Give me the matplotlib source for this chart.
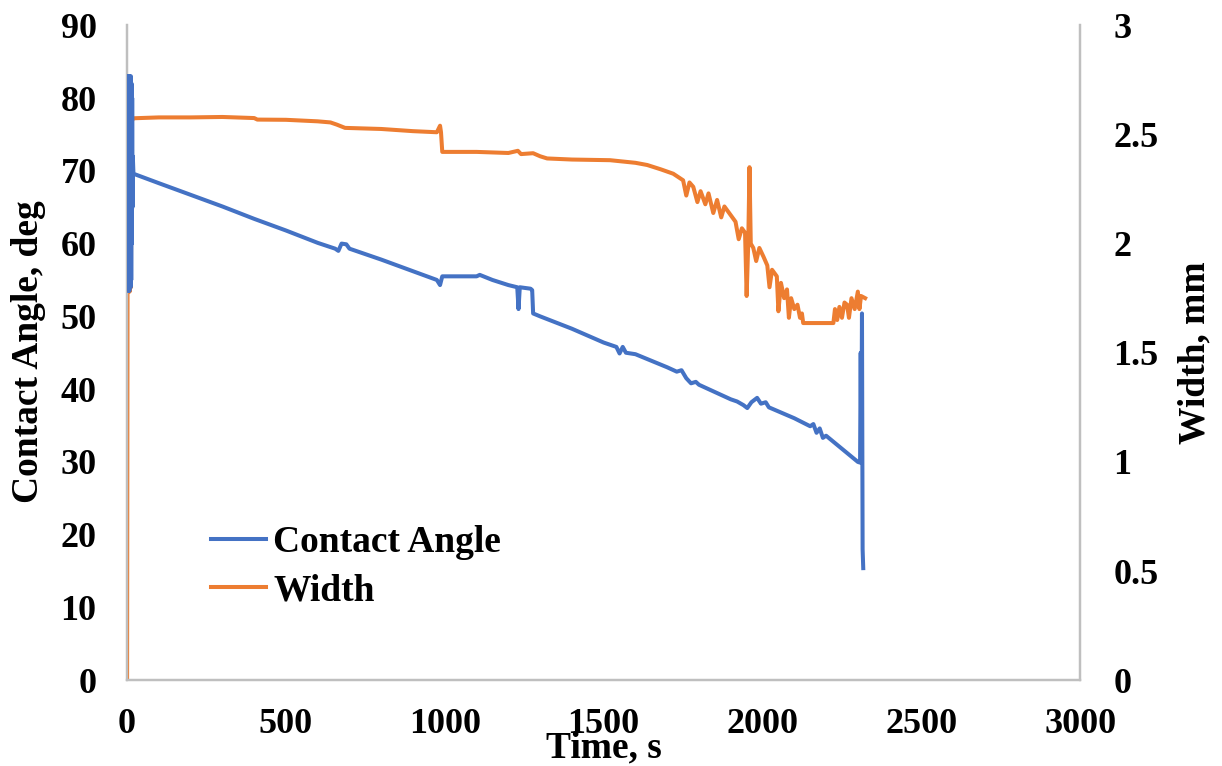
import numpy as np
import matplotlib.pyplot as plt
from matplotlib.lines import Line2D

## Contact angle (deg) vs time (s)
angle_t = [0, 1, 2, 3, 4, 5, 6, 7, 8, 9, 10, 11, 12, 13, 14, 15, 16, 17, 18, 20,
           100, 200, 300, 400, 500, 600, 655, 665, 675, 690, 700, 800, 900, 975, 985, 992,
           1100, 1110, 1150, 1200, 1228, 1232, 1236, 1270, 1275, 1278, 1300, 1400, 1500,
           1540, 1550, 1560, 1570, 1600, 1700, 1730, 1745, 1760, 1775, 1790, 1800, 1900,
           1920, 1940, 1952, 1965, 1983, 1995, 2010, 2020, 2100, 2150, 2160, 2170, 2180,
           2190, 2200, 2250, 2300, 2307, 2309, 2311, 2313, 2315, 2317]
angle = [83, 54, 83, 53.5, 83, 54, 82.5, 53.5, 83, 54, 82, 54, 83, 55, 82, 60, 80, 65, 72, 69.6,
         68.3, 66.7, 65.1, 63.4, 61.8, 60.1, 59.3, 59.0, 60.0, 59.9, 59.3, 57.8, 56.2, 55.0, 54.3, 55.5,
         55.5, 55.7, 55.0, 54.3, 54.0, 51.0, 54.0, 53.8, 53.6, 50.4, 50.0, 48.3, 46.4,
         45.8, 44.9, 45.8, 45.0, 44.8, 43.0, 42.4, 42.6, 41.5, 40.8, 41.0, 40.6, 38.6,
         38.3, 37.8, 37.4, 38.2, 38.8, 38.0, 38.2, 37.5, 36.0, 34.9, 35.2, 34.0, 34.6,
         33.3, 33.6, 31.8, 30.0, 29.9, 45.0, 30.0, 50.4, 18.0, 15.4]

## Width (mm) vs time (s)
width_t = [0, 2, 4, 6, 8, 10, 12, 14, 20, 100, 200, 300, 400, 410, 500, 600, 640, 660, 686,
           800, 900, 975, 985, 988, 992, 1100, 1200, 1230, 1240, 1278, 1300, 1322, 1400,
           1520, 1600, 1637, 1680, 1719, 1750, 1760, 1770, 1782, 1795, 1805, 1820, 1830,
           1845, 1857, 1870, 1880, 1900, 1915, 1925, 1935, 1945, 1950, 1955, 1959, 1963,
           1971, 1980, 1990, 2003, 2015, 2022, 2030, 2045, 2050, 2058, 2068, 2077, 2083,
           2090, 2100, 2110, 2118, 2124, 2128, 2223, 2228, 2235, 2242, 2250, 2258, 2266,
           2272, 2280, 2290, 2300, 2305, 2310, 2323]
width = [0, 2.57, 1.78, 2.57, 1.78, 2.57, 1.80, 2.56, 2.574, 2.578, 2.578, 2.58, 2.575, 2.568,
         2.567, 2.56, 2.555, 2.545, 2.53, 2.525, 2.515, 2.51, 2.54, 2.51, 2.42, 2.42, 2.415,
         2.425, 2.41, 2.414, 2.40, 2.39, 2.385, 2.382, 2.37, 2.36, 2.34, 2.32, 2.29, 2.22,
         2.28, 2.26, 2.19, 2.24, 2.18, 2.23, 2.14, 2.20, 2.12, 2.17, 2.13, 2.10, 2.02, 2.07,
         2.05, 1.76, 2.00, 2.35, 2.00, 1.98, 1.92, 1.98, 1.94, 1.90, 1.80, 1.88, 1.85, 1.69,
         1.82, 1.75, 1.79, 1.66, 1.75, 1.70, 1.72, 1.66, 1.68, 1.636, 1.636, 1.70, 1.65, 1.71,
         1.66, 1.73, 1.72, 1.66, 1.75, 1.70, 1.78, 1.70, 1.76, 1.75]

x_ticks = [0, 500, 1000, 1500, 2000, 2500, 3000]
left_ticks = [0, 10, 20, 30, 40, 50, 60, 70, 80, 90]
right_ticks = [0, 0.5, 1, 1.5, 2, 2.5, 3]
right_labels = ['0', '0.5', '1', '1.5', '2', '2.5', '3']

BLUE = '#4472C4'
ORANGE = '#ED7D31'
GREY = '#BFBFBF'
LW = 2.9

plt.rcParams['font.family'] = ['Liberation Serif', 'DejaVu Serif']
plt.rcParams['font.weight'] = 'bold'

fig = plt.figure(figsize=(12.22, 7.66), dpi=100)
ax = fig.add_axes([0.104, 0.112, 0.780, 0.855])
ax2 = ax.twinx()

ax.plot(angle_t, angle, color=BLUE, lw=LW, zorder=3)
ax2.plot(width_t, width, color=ORANGE, lw=LW)

ax.set_xlim(0, 3000)
ax.set_ylim(0, 90)
ax2.set_ylim(0, 3)
ax.set_xticks(x_ticks)
ax.set_yticks(left_ticks)
ax2.set_yticks(right_ticks)
ax2.set_yticklabels(right_labels)

for a in (ax, ax2):
    for s in a.spines.values():
        s.set_color(GREY)
        s.set_linewidth(1.6)
    a.spines['top'].set_visible(False)
    a.tick_params(length=0, labelsize=26)
ax.tick_params(axis='y', pad=22)
ax.tick_params(axis='x', pad=20)
ax2.tick_params(axis='y', pad=24)

# put the blue line over the orange one
ax.set_zorder(ax2.get_zorder() + 1)
ax.patch.set_visible(False)

fig.text(0.494, 1 - 748 / 766, 'Time, s', ha='center', va='center', fontsize=27, fontweight='bold')
fig.text(0.023, 1 - 352 / 766, 'Contact Angle, deg', ha='center', va='center', rotation=90,
         fontsize=27, fontweight='bold')
fig.text(0.978, 1 - 353 / 766, 'Width, mm', ha='center', va='center', rotation=90,
         fontsize=27, fontweight='bold')

handles = [Line2D([], [], color=BLUE, lw=LW), Line2D([], [], color=ORANGE, lw=LW)]
fig.legend(handles, ['Contact Angle', 'Width'], loc='center left',
           bbox_to_anchor=(0.16, 1 - 567 / 766), frameon=False, fontsize=27,
           handlelength=1.47, handletextpad=0.2, labelspacing=0.35, borderaxespad=0)

fig.savefig('out.png', dpi=100)
